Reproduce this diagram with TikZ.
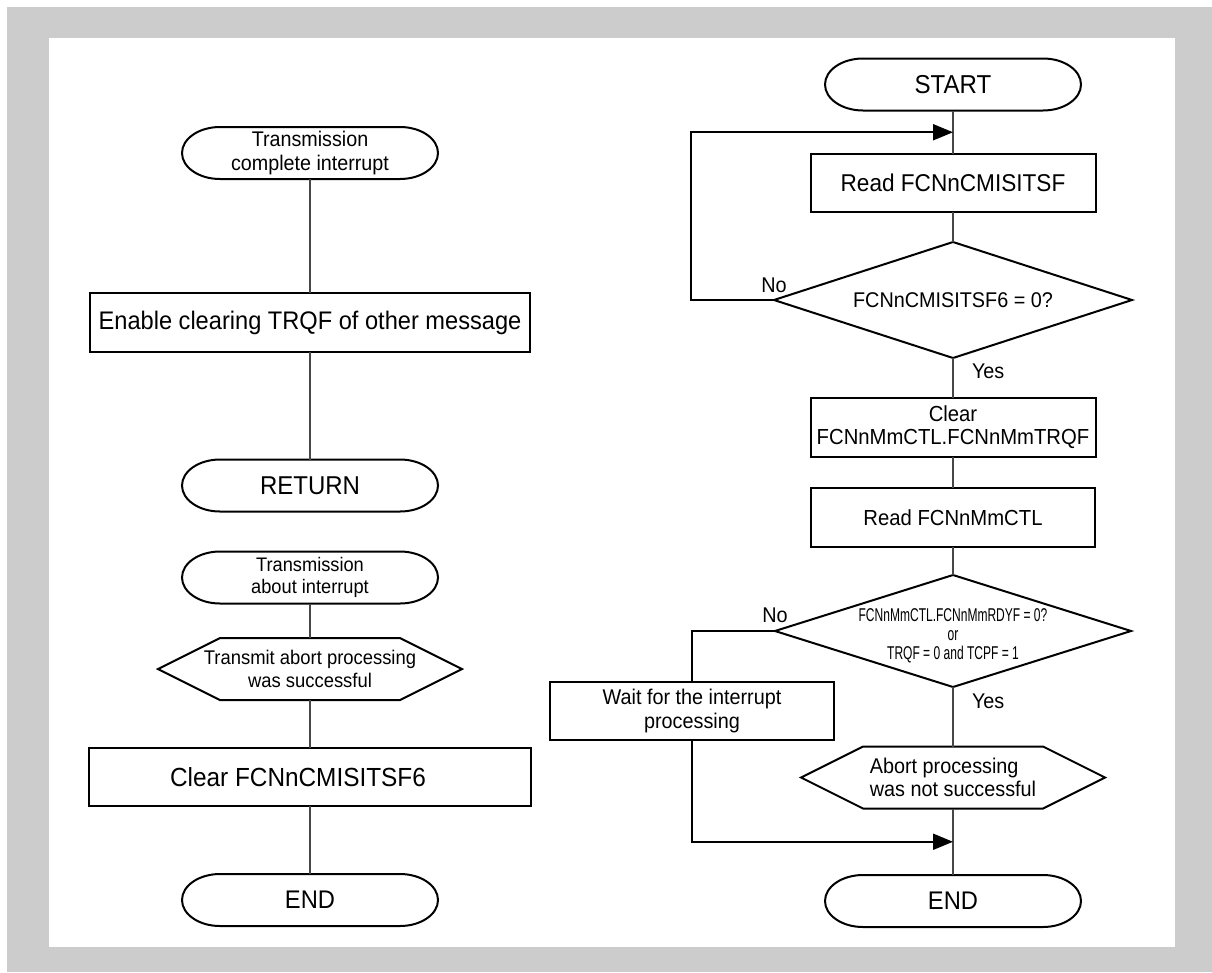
\documentclass[tikz,border=0pt]{standalone}
\usepackage{fontspec}
\setmainfont[FakeStretch=0.93]{Liberation Sans}
\newfontfamily\narrowfont[FakeStretch=0.65]{Liberation Sans}
\usetikzlibrary{arrows.meta,calc}
\definecolor{bggrey}{HTML}{CCCCCC}
\tikzset{
  outline/.style={draw=black, line width=2pt, line join=miter},
  boxnode/.style={outline, inner sep=0pt, outer sep=0pt, align=center, text=black},
  shapenode/.style={inner sep=0pt, outer sep=0pt, align=center, draw=none, text=black},
  termnode/.style={shapenode, minimum width=256pt, minimum height=52pt},
  hexnode/.style={shapenode, minimum width=304pt, minimum height=62pt},
  conn/.style={draw=black!72, line width=1.3pt},
  loopline/.style={draw=black, line width=2pt},
  arrowline/.style={loopline, -{Triangle[length=20pt,width=16pt]}},
  lbl/.style={inner sep=0pt, outer sep=0pt, font=\fontsize{21.3}{24}\selectfont},
}
\newcommand\termpath[1]{\draw[outline] ([xshift=38pt]#1.north west) -- ([xshift=-38pt]#1.north east) arc[start angle=90,end angle=-90,x radius=38pt,y radius=26pt] -- ([xshift=38pt]#1.south west) arc[start angle=270,end angle=90,x radius=38pt,y radius=26pt] -- cycle;}
\newcommand\hexpath[1]{\draw[outline] (#1.west) -- ([xshift=62pt]#1.north west) -- ([xshift=-62pt]#1.north east) -- (#1.east) -- ([xshift=-62pt]#1.south east) -- ([xshift=62pt]#1.south west) -- cycle;}
\newcommand\diapath[1]{\draw[outline] (#1.west) -- (#1.north) -- (#1.east) -- (#1.south) -- cycle;}
\begin{document}
\begin{tikzpicture}[x=1pt,y=-1pt]
\useasboundingbox (0,0) rectangle (1212,972);
\fill[white] (0,0) rectangle (1212,972);
\fill[bggrey] (7,7) rectangle (1212,972);
\fill[white] (49,38) rectangle (1175,947);

% ---------- left column ----------
\node[termnode, font=\fontsize{21.2}{23.5}\selectfont] (t1) at (310,153) {Transmission\\complete interrupt};
\node[boxnode, minimum width=440pt, minimum height=59pt, font=\fontsize{25.4}{28}\selectfont] (enable) at (310,322.5) {Enable clearing TRQF of other message};
\node[termnode, font=\fontsize{25.8}{28}\selectfont] (ret) at (310,485.5) {RETURN};
\node[termnode, font=\fontsize{19.6}{22.5}\selectfont] (t2) at (310,577.5) {Transmission\\about interrupt};
\node[hexnode, font=\fontsize{19.8}{22.7}\selectfont] (hex1) at (310,669) {Transmit abort processing\\was successful};
\node[boxnode, minimum width=442pt, minimum height=58pt, font=\fontsize{26.2}{29}\selectfont] (clr6) at (310,777) {Clear FCNnCMISITSF6\hspace*{24pt}};
\node[termnode, font=\fontsize{25.5}{28}\selectfont] (end1) at (310,900) {END};

\termpath{t1}
\termpath{ret}
\termpath{t2}
\hexpath{hex1}
\termpath{end1}

\draw[conn] (t1.south) -- (enable.north);
\draw[conn] (enable.south) -- (ret.north);
\draw[conn] (t2.south) -- (hex1.north);
\draw[conn] (hex1.south) -- (clr6.north);
\draw[conn] (clr6.south) -- (end1.north);

% ---------- right column ----------
\node[termnode, font=\fontsize{25.9}{28}\selectfont] (start) at (953,84.5) {START};
\node[boxnode, minimum width=285pt, minimum height=58pt, font=\fontsize{24.3}{27}\selectfont] (read1) at (953,183) {Read FCNnCMISITSF};
\node[shapenode, minimum width=358pt, minimum height=116pt, font=\fontsize{21.3}{24}\selectfont] (d1) at (953,300) {FCNnCMISITSF6 = 0?};
\node[boxnode, minimum width=285pt, minimum height=59pt, font=\fontsize{21.8}{23.3}\selectfont] (clr) at (953,427.5) {Clear\\FCNnMmCTL.FCNnMmTRQF};
\node[boxnode, minimum width=284pt, minimum height=59pt, font=\fontsize{21.8}{24}\selectfont] (read2) at (953,517.5) {Read FCNnMmCTL};
\node[shapenode, minimum width=356pt, minimum height=112pt] (d2) at (953,631) {};
\node[shapenode, font=\narrowfont\fontsize{18.5}{19}\selectfont] (d2t) at ([yshift=-5pt]d2.center) {FCNnMmCTL.FCNnMmRDYF = 0?\\or\\TRQF = 0 and TCPF = 1};
\node[boxnode, minimum width=284pt, minimum height=58pt, font=\fontsize{21.3}{24}\selectfont] (wait) at (692,711) {Wait for the interrupt\\processing};
\node[hexnode, align=left, font=\fontsize{21.3}{23.7}\selectfont] (hex2) at (953,777.5) {Abort processing\\was not successful};
\node[termnode, font=\fontsize{25.5}{28}\selectfont] (end2) at (953,901) {END};

\termpath{start}
\diapath{d1}
\diapath{d2}
\hexpath{hex2}
\termpath{end2}

\coordinate (m1) at ($(start.south)!0.5!(read1.north)$);
\coordinate (m2) at ($(hex2.south)!0.5!(end2.north)$);

\draw[conn] (start.south) -- (read1.north);
\draw[conn] (read1.south) -- (d1.north);
\draw[conn] (d1.south) -- (clr.north);
\draw[conn] (clr.south) -- (read2.north);
\draw[conn] (read2.south) -- (d2.north);
\draw[conn] (d2.south) -- (hex2.north);
\draw[conn] (hex2.south) -- (end2.north);

\draw[arrowline] (d1.west) -- ++(-83,0) |- (m1);
\draw[loopline] (d2.west) -| (wait.north);
\draw[arrowline] (wait.south) |- (m2);

\node[lbl, anchor=base] (no1) at ([yshift=8pt]d1.west) {No};
\node[lbl, anchor=base] (no2) at ([yshift=9pt]d2.west) {No};
\node[lbl, anchor=base west] (yes1) at ([xshift=19pt,yshift=-20pt]d1.south) {Yes};
\node[lbl, anchor=base west] (yes2) at ([xshift=19pt,yshift=-21pt]d2.south) {Yes};
\end{tikzpicture}
\end{document}
